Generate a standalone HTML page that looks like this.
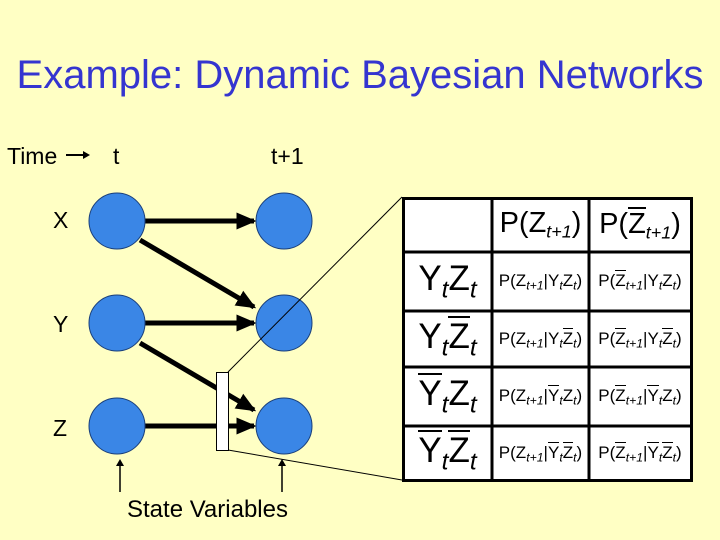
<!DOCTYPE html>
<html><head><style>
body{margin:0;width:720px;height:540px;background:#ffffc4;position:relative;overflow:hidden;font-family:"Liberation Sans",sans-serif;}
.a{position:absolute;white-space:nowrap;}
.ob{display:inline-block;border-top:2px solid #000;line-height:1;padding-top:1px;}
.sm .ob{border-top-width:1px;}
.c{position:absolute;display:flex;align-items:center;justify-content:center;white-space:nowrap;}
sub{font-size:62%;vertical-align:-0.3em;font-style:italic;}
.sm{font-size:17px;}
.sm sub{font-size:72%;}
.big{font-size:35px;}
.big sub{font-size:70%;}
.hd{font-size:29px;}
</style></head><body>
<div class="a" style="left:0;width:720px;top:53px;text-align:center;font-size:40px;color:#3535d0;">Example: Dynamic Bayesian Networks</div>
<div class="a" style="left:7px;top:143px;font-size:23px;">Time</div>
<div class="a" style="left:113px;top:143px;font-size:23px;">t</div>
<div class="a" style="left:271px;top:143px;font-size:23px;">t+1</div>
<div class="a" style="left:53px;top:207px;font-size:23px;">X</div>
<div class="a" style="left:53px;top:311px;font-size:23px;">Y</div>
<div class="a" style="left:53px;top:415px;font-size:23px;">Z</div>
<div class="a" style="left:127px;top:496px;font-size:24px;">State Variables</div>
<svg width="720" height="540" style="position:absolute;left:0;top:0">
<defs><marker id="ar" markerWidth="4" markerHeight="4" refX="3.5" refY="2" orient="auto" markerUnits="strokeWidth"><path d="M0,0.3 L4,2 L0,3.7z" fill="#000"/></marker></defs>
<line x1="66" y1="155" x2="84" y2="155" stroke="#000" stroke-width="2"/><path d="M83,151 L90,155 L83,159z"/>
<g stroke="#000" stroke-width="5">
<line x1="145" y1="221" x2="254" y2="221" marker-end="url(#ar)"/>
<line x1="145" y1="323" x2="254" y2="323" marker-end="url(#ar)"/>
<line x1="145" y1="426" x2="254" y2="426" marker-end="url(#ar)"/>
<line x1="140" y1="240" x2="254" y2="307" marker-end="url(#ar)"/>
<line x1="140" y1="343" x2="254" y2="410" marker-end="url(#ar)"/>
</g>
<g fill="#3a86e6" stroke="#1a3f7a" stroke-width="1">
<circle cx="117" cy="221" r="28"/><circle cx="117" cy="323" r="28"/><circle cx="117" cy="426" r="28"/>
<circle cx="284" cy="221" r="28"/><circle cx="284" cy="323" r="28"/><circle cx="284" cy="426" r="28"/>
</g>
<rect x="216.5" y="372.5" width="12" height="78" fill="#fff" stroke="#000"/>
<line x1="228" y1="372" x2="402" y2="197" stroke="#000" stroke-width="1"/>
<line x1="228" y1="450" x2="402" y2="480" stroke="#000" stroke-width="1"/>
<line x1="120" y1="492" x2="120" y2="464" stroke="#000" stroke-width="1.5"/><path d="M116,466 L120,459 L124,466z"/>
<line x1="282" y1="492" x2="282" y2="464" stroke="#000" stroke-width="1.5"/><path d="M278,466 L282,459 L286,466z"/>
<rect x="403.5" y="198.5" width="288" height="282" fill="#fff" stroke="#000" stroke-width="3"/>
<g stroke="#000" stroke-width="3">
<line x1="492" y1="198" x2="492" y2="481"/><line x1="589" y1="198" x2="589" y2="481"/>
<line x1="403" y1="252" x2="691" y2="252"/><line x1="403" y1="311" x2="691" y2="311"/>
<line x1="403" y1="367" x2="691" y2="367"/><line x1="403" y1="426" x2="691" y2="426"/>
</g>
</svg>
<div class="c hd" style="left:492px;top:198px;width:97px;height:54px;"><span>P(Z<sub>t+1</sub>)</span></div>
<div class="c hd" style="left:589px;top:198px;width:102px;height:54px;"><span>P(<span class="ob">Z</span><sub>t+1</sub>)</span></div>
<div class="c big" style="left:403px;top:252px;width:89px;height:59px;"><span>Y<sub>t</sub>Z<sub>t</sub></span></div>
<div class="c big" style="left:403px;top:311px;width:89px;height:56px;"><span>Y<sub>t</sub><span class="ob">Z</span><sub>t</sub></span></div>
<div class="c big" style="left:403px;top:367px;width:89px;height:59px;"><span><span class="ob">Y</span><sub>t</sub>Z<sub>t</sub></span></div>
<div class="c big" style="left:403px;top:426px;width:89px;height:55px;"><span><span class="ob">Y</span><sub>t</sub><span class="ob">Z</span><sub>t</sub></span></div>
<div class="c sm" style="left:492px;top:252px;width:97px;height:59px;"><span>P(Z<sub>t+1</sub>|Y<sub>t</sub>Z<sub>t</sub>)</span></div>
<div class="c sm" style="left:589px;top:252px;width:102px;height:59px;"><span>P(<span class="ob">Z</span><sub>t+1</sub>|Y<sub>t</sub>Z<sub>t</sub>)</span></div>
<div class="c sm" style="left:492px;top:311px;width:97px;height:56px;"><span>P(Z<sub>t+1</sub>|Y<sub>t</sub><span class="ob">Z</span><sub>t</sub>)</span></div>
<div class="c sm" style="left:589px;top:311px;width:102px;height:56px;"><span>P(<span class="ob">Z</span><sub>t+1</sub>|Y<sub>t</sub><span class="ob">Z</span><sub>t</sub>)</span></div>
<div class="c sm" style="left:492px;top:367px;width:97px;height:59px;"><span>P(Z<sub>t+1</sub>|<span class="ob">Y</span><sub>t</sub>Z<sub>t</sub>)</span></div>
<div class="c sm" style="left:589px;top:367px;width:102px;height:59px;"><span>P(<span class="ob">Z</span><sub>t+1</sub>|<span class="ob">Y</span><sub>t</sub>Z<sub>t</sub>)</span></div>
<div class="c sm" style="left:492px;top:426px;width:97px;height:55px;"><span>P(Z<sub>t+1</sub>|<span class="ob">Y</span><sub>t</sub><span class="ob">Z</span><sub>t</sub>)</span></div>
<div class="c sm" style="left:589px;top:426px;width:102px;height:55px;"><span>P(<span class="ob">Z</span><sub>t+1</sub>|<span class="ob">Y</span><sub>t</sub><span class="ob">Z</span><sub>t</sub>)</span></div>
</body></html>
